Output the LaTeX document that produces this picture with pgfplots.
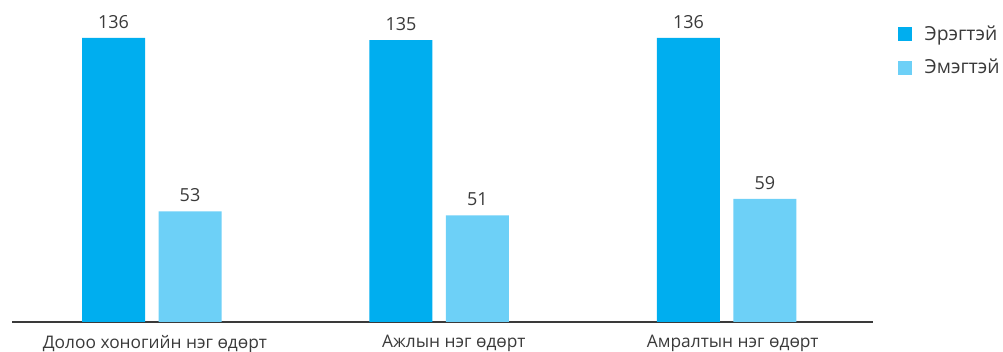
\documentclass[border=0pt]{standalone}
\usepackage{pgfplots}
\pgfplotsset{compat=1.18}
\usepackage{fontspec}
\setmainfont{Open Sans}
\definecolor{dark}{HTML}{00AEEF}
\definecolor{light}{HTML}{6DD0F7}
\definecolor{txt}{HTML}{3A3A3A}
\begin{document}
\begin{tikzpicture}
\begin{axis}[
  at={(9pt,22.5pt)}, anchor=south west,
  scale only axis, width=645.75pt, height=241.5pt,
  xmin=-0.487, xmax=2.508, ymin=0, ymax=154.2,
  enlargelimits=false, clip=false,
  /pgf/number format/assume math mode=true,
  axis x line*=bottom, axis y line=none,
  x axis line style={draw=txt, line width=1.1pt},
  xtick={0.01,1.05,2.02},
  xticklabels={Долоо хоногийн нэг өдөрт, Ажлын нэг өдөрт, Амралтын нэг өдөрт},
  major tick length=0pt, ytick=\empty,
  xticklabel style={font=\fontsize{13}{15}\selectfont, color=txt, anchor=north, inner sep=0pt, yshift=-9.5pt},
  ybar, bar width=47.25pt,
  nodes near coords,
  every node near coord/.append style={font=\fontsize{13.5}{15}\selectfont, color=txt, anchor=south, inner sep=0pt, yshift=7pt},
  legend style={draw=none, fill=none, at={(axis description cs:1.029,0.921)}, anchor=north west,
    inner sep=0pt, outer sep=0pt, row sep=13pt, font=\fontsize{14.5}{16}\selectfont, text=txt,
    nodes={inner sep=0pt}},
  legend cell align=left,
  legend image code/.code={\fill[#1] (0pt,-5.25pt) rectangle (10.5pt,5.25pt);},
  /tikz/every odd column/.style={column sep=0pt},
  /tikz/every even column/.style={column sep=0pt},
]
\addplot[fill=dark, draw=none, bar shift=-28.875pt] coordinates {(0,136) (1,135) (2,136)};
\addplot[fill=light, draw=none, bar shift=28.5pt] coordinates {(0,53) (1,51) (2,59)};
\legend{\hspace{9.5pt}Эрэгтэй, \hspace{9.5pt}Эмэгтэй}
\end{axis}
\pgfresetboundingbox
\path (0,0) rectangle (752.25pt,264pt);
\end{tikzpicture}
\end{document}
